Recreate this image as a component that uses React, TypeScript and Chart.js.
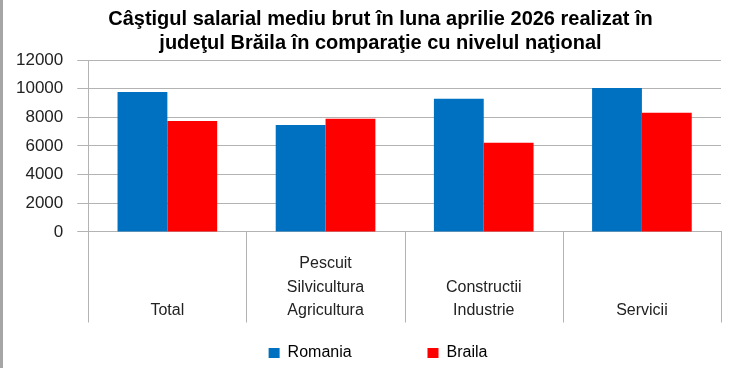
import React, { useEffect, useRef } from "react";
import { Chart, registerables } from "chart.js";

Chart.register(...registerables);

const titleLines = [
  "Câştigul salarial mediu brut în luna aprilie 2026 realizat în",
  "judeţul Brăila în comparaţie cu nivelul naţional",
];
const categories: string[][] = [
  ["", "", "Total"],
  ["Pescuit", "Silvicultura", "Agricultura"],
  ["", "Constructii", "Industrie"],
  ["", "", "Servicii"],
];
const seriesNames = ["Romania", "Braila"];
const romaniaValues = [9770, 7470, 9300, 10050];
const brailaValues = [7750, 7900, 6230, 8320];
const yMin = 0;
const yMax = 12000;
const yStep = 2000;

const GRID = "#b3b3b3";
const FONT = "'Liberation Sans', Arial, sans-serif";

const separators = {
  id: "categorySeparators",
  afterDraw(chart: any) {
    const x = chart.scales.x;
    const area = chart.chartArea;
    if (!x || !area) return;
    const n = x.ticks.length;
    const pts: number[] = [x.left];
    for (let i = 1; i < n; i++) {
      pts.push((x.getPixelForTick(i - 1) + x.getPixelForTick(i)) / 2);
    }
    pts.push(x.right);
    const ctx = chart.ctx;
    ctx.save();
    ctx.strokeStyle = GRID;
    ctx.lineWidth = 1;
    ctx.beginPath();
    pts.forEach((p) => {
      const px = Math.round(p) + 0.5;
      ctx.moveTo(px, area.bottom);
      ctx.lineTo(px, x.bottom);
    });
    ctx.stroke();
    ctx.restore();
  },
};

const blockShift = {
  id: "blockShift",
  afterLayout(chart: any) {
    if (chart.legend) chart.legend.left += 33;
    if (chart.titleBlock) chart.titleBlock.left += 38;
  },
};

export default function App() {
  const ref = useRef<HTMLCanvasElement | null>(null);
  useEffect(() => {
    if (!ref.current) return;
    const chart = new Chart(ref.current, {
      type: "bar",
      data: {
        labels: categories,
        datasets: [
          {
            label: seriesNames[0],
            data: romaniaValues,
            backgroundColor: "#0070C0",
            categoryPercentage: 0.63,
            barPercentage: 1,
          },
          {
            label: seriesNames[1],
            data: brailaValues,
            backgroundColor: "#FF0000",
            categoryPercentage: 0.63,
            barPercentage: 1,
          },
        ],
      },
      plugins: [separators, blockShift],
      options: {
        animation: false,
        responsive: false,
        maintainAspectRatio: false,
        layout: { padding: { left: 2, right: 29, top: 0, bottom: 4 } },
        plugins: {
          title: {
            display: true,
            text: titleLines,
            color: "#000",
            font: { family: FONT, size: 20, weight: "bold", lineHeight: 1.2 },
            padding: { top: 7, bottom: 5 },
          },
          legend: {
            display: true,
            position: "bottom",
            labels: {
              color: "#000",
              font: { family: FONT, size: 16 },
              boxWidth: 11,
              boxHeight: 10,
              padding: 22.5,
              generateLabels(c: any) {
                const items = Chart.defaults.plugins.legend.labels.generateLabels(c);
                if (items[0]) items[0].text = items[0].text + "            ";
                return items;
              },
            },
          },
          tooltip: { enabled: false },
        },
        scales: {
          x: {
            grid: {
              offset: true,
              drawOnChartArea: false,
              drawTicks: true,
              tickLength: 20,
              tickColor: "rgba(0,0,0,0)",
              color: GRID,
            },
            border: { color: GRID },
            ticks: {
              color: "#222",
              padding: 0,
              maxRotation: 0,
              autoSkip: false,
              font: { family: FONT, size: 16, lineHeight: 1.47 },
            },
          },
          y: {
            min: yMin,
            max: yMax,
            ticks: {
              stepSize: yStep,
              color: "#222",
              padding: 14,
              font: { family: FONT, size: 17 },
              callback: (v: any) => String(v),
            },
            grid: { color: GRID, tickLength: 11 },
            border: { color: GRID },
          },
        },
      },
    });
    return () => chart.destroy();
  }, []);
  return (
    <div style={{ position: "fixed", left: 0, top: 0, width: 750, height: 375, background: "#fff" }}>
      <canvas ref={ref} width={750} height={375} style={{ width: 750, height: 375, display: "block" }} />
      <div style={{ position: "absolute", left: 0, top: 0, width: 3, height: 368, background: "#a6a6a6" }} />
    </div>
  );
}
